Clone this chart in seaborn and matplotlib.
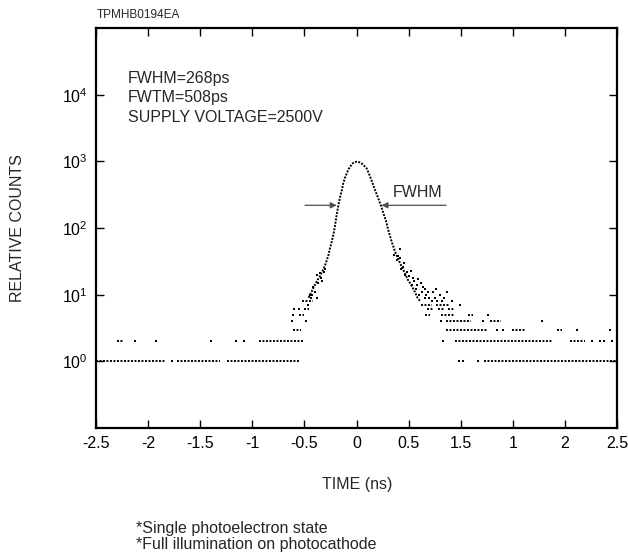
import numpy as np
import pandas as pd
import matplotlib
matplotlib.use("Agg")
import matplotlib.pyplot as plt
from matplotlib.ticker import NullLocator
import seaborn as sns

# main peak (time in ns, relative counts)
peak_time = [-0.46, -0.42, -0.40, -0.37, -0.35, -0.318, -0.29, -0.27, -0.254, -0.238,
             -0.222, -0.21, -0.197, -0.185, -0.175, -0.158, -0.142, -0.127, -0.11, -0.09,
             -0.075, -0.062, -0.045, -0.03, -0.015, 0.0, 0.017, 0.035, 0.05, 0.07,
             0.085, 0.098, 0.12, 0.146, 0.17, 0.194, 0.22, 0.242, 0.265, 0.283,
             0.30, 0.315, 0.338, 0.355, 0.37, 0.395, 0.417, 0.44, 0.465, 0.49,
             0.513, 0.535, 0.56, 0.585, 0.61]
peak_counts = [9, 12, 14, 17, 19, 24, 31, 39, 50, 62,
               80, 100, 135, 175, 215, 290, 360, 470, 570, 680,
               770, 830, 900, 950, 975, 985, 980, 960, 930, 870,
               820, 780, 650, 510, 400, 320, 250, 200, 155, 128,
               100, 82, 62, 52, 44, 36, 30, 25, 21, 17,
               15, 13, 11, 9, 8]

# single stray channels
stray_time = [-2.13, -1.92, -1.40, -1.16, -1.08, -1.77, -0.62, -0.48, -0.61, -0.49,
              -0.40, -0.43, -0.38, -0.44, -0.47, -0.38, -0.367, -0.35, -0.33, -0.31,
              -0.30, -0.34, -0.42, -0.45,
              0.36, 0.39, 0.417, 0.43, 0.45, 0.48, 0.50, 0.53, 0.55, 0.57,
              0.59, 0.60, 0.63, 0.64, 0.66, 0.66, 0.69, 0.70, 0.72, 0.75,
              0.763, 0.80, 0.82, 0.84, 0.87, 0.99, 1.26, 0.81, 1.21, 1.78,
              1.35, 1.41, 2.12, 2.43, 0.83, 2.26, 2.34, 2.38, 2.45, 0.98,
              1.02, 1.17, 0.40, 0.42, 0.46, 0.47, 0.52, 0.54, 0.58, 0.62,
              0.67, 0.73, 0.77, 0.92]
stray_counts = [2, 2, 2, 2, 2, 1, 4, 4, 5, 6,
                11, 10, 9, 9, 7, 20, 15, 21, 16, 22,
                24, 18, 13, 10,
                40, 33, 49, 24, 26, 22, 19, 14, 16, 12,
                17, 10, 11, 13, 9, 12, 11, 9, 8, 9,
                12, 10, 8, 9, 11, 7, 5, 4, 4, 4,
                3, 3, 3, 3, 2, 2, 2, 2, 2, 1,
                1, 1, 38, 35, 30, 20, 23, 18, 14, 15,
                10, 11, 8, 8]

# runs of neighbouring channels sitting at the same low count
run_counts = [1, 1, 1, 2, 2, 3, 5, 6, 6, 6, 8,
              1, 2, 2, 3, 3, 3, 4, 4, 5, 5, 5, 6, 6, 6, 7, 7]
run_start = [-2.50, -1.72, -1.24, -2.30, -0.94, -0.61, -0.55, -0.61, -0.56, -0.50, -0.525,
             1.22, 0.95, 2.05, 0.86, 1.49, 1.92, 0.86, 1.28, 0.66, 0.81, 1.07, 0.68, 0.78, 0.88, 0.62, 0.76]
run_end = [-1.83, -1.31, -0.545, -2.24, -0.51, -0.53, -0.50, -0.585, -0.53, -0.46, -0.415,
           2.50, 1.89, 2.19, 1.25, 1.63, 1.97, 1.10, 1.39, 0.71, 0.95, 1.12, 0.74, 0.85, 0.95, 0.72, 0.90]

x_ticks = [-2.5, -2, -1.5, -1, -0.5, 0, 0.5, 1, 1.5, 2, 2.5]
x_tick_labels = ["-2.5", "-2", "-1.5", "-1", "-0.5", "0", "0.5", "1.5", "1", "2", "2.5"]
y_ticks = [1, 10, 100, 1000, 10000]

sns.set_style("ticks")
plt.rcParams['font.family'] = ['Liberation Sans', 'DejaVu Sans']

peak_df = pd.DataFrame({"time": peak_time, "counts": peak_counts})
stray_df = pd.DataFrame({"time": stray_time, "counts": stray_counts})

fig = plt.figure(figsize=(6.28, 5.58), dpi=100)
ax = fig.add_axes([96 / 628, 1 - 428 / 558, 521 / 628, 400 / 558])

# flat runs
ax.hlines(run_counts, run_start, run_end, colors='k', linewidth=1.4,
          linestyles=[(0, (1, 0.8))])

# peak, dense dotted curve
sns.lineplot(data=peak_df, x="time", y="counts", ax=ax, color='k',
             linewidth=1.4, linestyle=(0, (1, 0.7)), sort=False, estimator=None)

sns.scatterplot(data=stray_df, x="time", y="counts", ax=ax, color='k',
                marker='s', s=3, linewidth=0)

ax.set_yscale('log')
ax.set_xlim(-2.5, 2.5)
ax.set_ylim(0.1, 1e5)
ax.set_xticks(x_ticks)
ax.set_xticklabels(x_tick_labels)
ax.set_yticks(y_ticks)
ax.yaxis.set_minor_locator(NullLocator())
ax.set_xlabel("")
ax.set_ylabel("")

ax.tick_params(direction='in', length=6, width=1, top=True, right=True,
               labelsize=11.5, colors='k')
ax.tick_params(axis='x', pad=6)
ax.tick_params(axis='y', pad=6)
for sp in ax.spines.values():
    sp.set_visible(True)
    sp.set_linewidth(1.6)
    sp.set_color('k')

# FWHM arrows
ax.annotate('', xy=(-0.19, 219), xytext=(-0.494, 219),
            arrowprops=dict(arrowstyle='-|>', color='0.3', lw=0.9,
                            mutation_scale=9, shrinkA=0, shrinkB=0))
ax.annotate('', xy=(0.24, 219), xytext=(0.86, 219),
            arrowprops=dict(arrowstyle='-|>', color='0.3', lw=0.9,
                            mutation_scale=9, shrinkA=0, shrinkB=0))
ax.text(0.35, 340, "FWHM", fontsize=11.5, va='center', ha='left')

ax.text(0.0614, 0.875, "FWHM=268ps", transform=ax.transAxes, fontsize=11.5, va='center')
ax.text(0.0614, 0.826, "FWTM=508ps", transform=ax.transAxes, fontsize=11.5, va='center')
ax.text(0.0614, 0.777, "SUPPLY VOLTAGE=2500V", transform=ax.transAxes, fontsize=11.5, va='center')

fig.text(97 / 628, 1 - 15 / 558, "TPMHB0194EA", fontsize=8.5, va='center', ha='left')
fig.text(18 / 628, 1 - 228 / 558, "RELATIVE COUNTS", fontsize=11.5, rotation=90,
         va='center', ha='center')
fig.text(357 / 628, 1 - 484 / 558, "TIME (ns)", fontsize=11.5, va='center', ha='center')
fig.text(136 / 628, 1 - 528 / 558, "*Single photoelectron state", fontsize=11.5, va='center')
fig.text(136 / 628, 1 - 545 / 558, "*Full illumination on photocathode", fontsize=11.5, va='center')

fig.savefig("out.png", dpi=100)
